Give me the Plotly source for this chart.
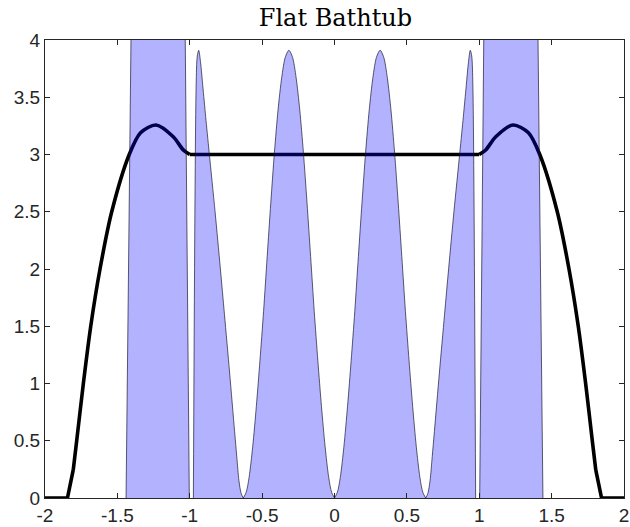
import plotly.graph_objects as go

# ---- data (left half, x <= 0; chart is symmetric) ----
# outer (clipped) block of the blue density
block_x = [-1.44, -1.406, -1.36, -1.25, -1.10, -1.031, -1.003]
block_y = [0.0, 4.0, 6.5, 9.0, 6.5, 4.0, 0.0]
# narrow hump next to the edge of the flat part
narrow_x = [-0.975, -0.956, -0.948, -0.938, -0.925, -0.910, -0.890, -0.866, -0.825,
            -0.789, -0.760, -0.725, -0.690, -0.675, -0.660, -0.645, -0.630]
narrow_y = [0.0, 3.60, 3.86, 3.91, 3.80, 3.60, 3.33, 3.02, 2.50,
            2.01, 1.60, 1.10, 0.58, 0.36, 0.15, 0.04, 0.0]
# inner hump
inner_x = [-0.630, -0.610, -0.590, -0.565, -0.540, -0.515, -0.490, -0.465, -0.440,
           -0.415, -0.390, -0.365, -0.340, -0.315, -0.290, -0.265, -0.240, -0.215,
           -0.190, -0.165, -0.140, -0.115, -0.090, -0.065, -0.040, -0.020, 0.0]
inner_y = [0.0, 0.05, 0.18, 0.45, 0.80, 1.20, 1.63, 2.11, 2.58,
           3.02, 3.39, 3.67, 3.85, 3.91, 3.85, 3.67, 3.39, 3.02,
           2.58, 2.11, 1.63, 1.20, 0.80, 0.45, 0.18, 0.05, 0.0]

# black curve (left half): zero tail, smooth rising part with bump, flat top
tail_x = [-2.0, -1.845, -1.805]
tail_y = [0.0, 0.0, 0.245]
rise_x = [-1.805, -1.781, -1.735, -1.684, -1.620, -1.539, -1.418, -1.340, -1.233,
          -1.114, -1.045, -1.0]
rise_y = [0.245, 0.5, 1.0, 1.5, 2.0, 2.5, 3.0, 3.19, 3.258,
          3.155, 3.04, 3.0]
flat_x = [-1.0, 0.0, 1.0]
flat_y = [3.0, 3.0, 3.0]

x_ticks = [-2, -1.5, -1, -0.5, 0, 0.5, 1, 1.5, 2]
y_ticks = [0, 0.5, 1, 1.5, 2, 2.5, 3, 3.5, 4]
title_text = "Flat Bathtub"


def mirror(xs, ys):
    return [-v for v in reversed(xs)], list(reversed(ys))


axis_col = "#262626"
fill_col = "rgba(0,0,255,0.30)"
edge = dict(color="rgba(20,20,40,0.85)", width=0.8)
black_line = dict(color="black", width=3.6)

fig = go.Figure()
for xs, ys in [(tail_x, tail_y), mirror(tail_x, tail_y)]:
    fig.add_trace(go.Scatter(x=xs, y=ys, mode="lines", line=black_line,
                             hoverinfo="skip", showlegend=False))
for xs, ys in [(rise_x, rise_y), mirror(rise_x, rise_y)]:
    fig.add_trace(go.Scatter(x=xs, y=ys, mode="lines",
                             line=dict(black_line, shape="spline", smoothing=0.8),
                             hoverinfo="skip", showlegend=False))
fig.add_trace(go.Scatter(x=flat_x, y=flat_y, mode="lines", line=black_line,
                         hoverinfo="skip", showlegend=False))

pieces = [(block_x, block_y, "linear"), (narrow_x, narrow_y, "spline"),
          (inner_x, inner_y, "spline")]
for px, py, shp in pieces:
    for xs, ys in [(px, py), mirror(px, py)]:
        ln = dict(edge, shape=shp)
        if shp == "spline":
            ln["smoothing"] = 0.8
        fig.add_trace(go.Scatter(x=xs, y=ys, mode="lines", fill="tozeroy",
                                 fillcolor=fill_col, line=ln,
                                 hoverinfo="skip", showlegend=False))

fig.update_layout(
    width=630, height=527,
    margin=dict(l=45, r=6, t=40, b=29),
    paper_bgcolor="white", plot_bgcolor="white",
    title=dict(text=title_text, x=0.5325, xanchor="center", y=0.966, yanchor="middle",
               font=dict(family="DejaVu Serif", size=24, color="black")),
    font=dict(family="Liberation Sans", size=19, color=axis_col),
    xaxis=dict(range=[-2, 2], tickvals=x_ticks,
               ticktext=[f"{v:g}" for v in x_ticks],
               showgrid=False, zeroline=False, showline=True, linecolor=axis_col,
               linewidth=1, mirror="ticks", ticks="inside", ticklen=5,
               tickcolor=axis_col, tickwidth=0.8, automargin=False),
    yaxis=dict(range=[0, 4], tickvals=y_ticks,
               ticktext=[f"{v:g}" for v in y_ticks],
               showgrid=False, zeroline=False, showline=True, linecolor=axis_col,
               linewidth=1, mirror="ticks", ticks="inside", ticklen=5,
               tickcolor=axis_col, tickwidth=0.8, automargin=False),
)

fig.write_html("out.html", config={"displayModeBar": False},
               post_script="document.body.style.margin='0';document.body.style.padding='0';")
